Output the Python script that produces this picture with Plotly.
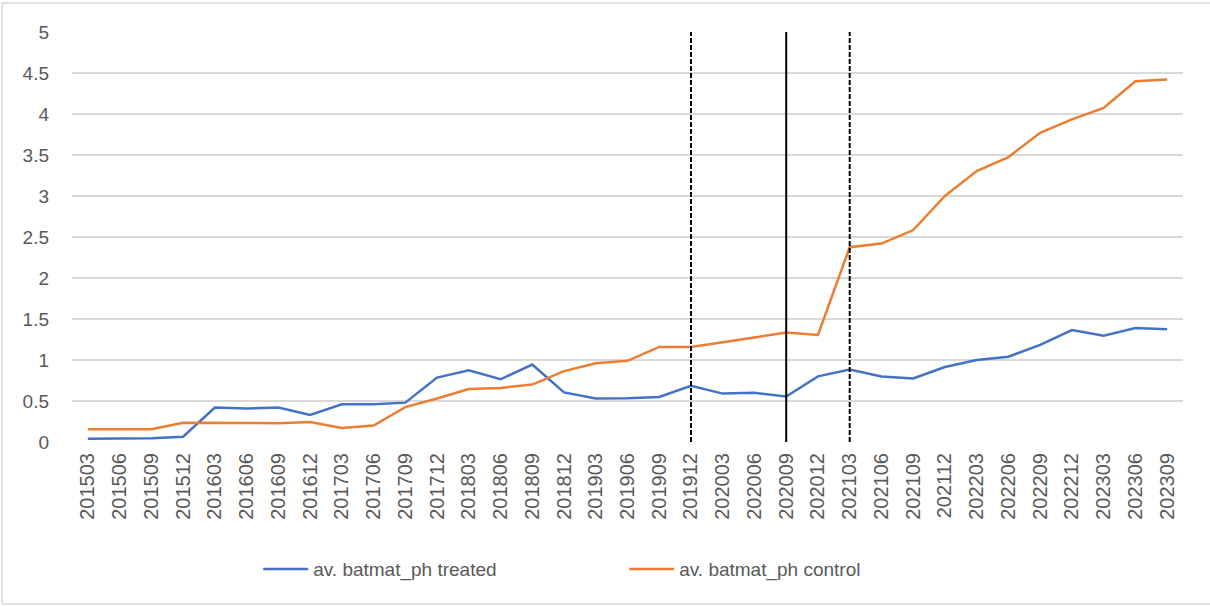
import plotly.graph_objects as go

periods = ["201503","201506","201509","201512","201603","201606","201609","201612",
           "201703","201706","201709","201712","201803","201806","201809","201812",
           "201903","201906","201909","201912","202003","202006","202009","202012",
           "202103","202106","202109","202112","202203","202206","202209","202212",
           "202303","202306","202309"]

treated = [0.04,0.04,0.045,0.065,0.42,0.41,0.42,0.33,0.46,0.46,0.48,0.785,0.875,0.765,0.945,0.605,
           0.53,0.535,0.55,0.685,0.59,0.60,0.555,0.80,0.885,0.80,0.775,0.915,1.00,1.04,1.185,1.365,
           1.295,1.39,1.375]

control = [0.155,0.155,0.155,0.235,0.235,0.23,0.23,0.245,0.17,0.20,0.425,0.53,0.645,0.66,0.70,0.865,
           0.96,0.99,1.16,1.16,1.215,1.275,1.335,1.305,2.375,2.42,2.585,3.0,3.305,3.475,3.77,3.935,
           4.075,4.40,4.42]

y_ticks = [0, 0.5, 1, 1.5, 2, 2.5, 3, 3.5, 4, 4.5, 5]
y_tick_labels = ["0", "0.5", "1", "1.5", "2", "2.5", "3", "3.5", "4", "4.5", "5"]

event_periods = ["201912", "202009", "202103"]
event_styles = ["5px,2px", "solid", "5px,2px"]

W, H = 1210, 606
ML, MR, MT, MB = 72, 27, 32, 164
font_family = "Liberation Sans"
tick_color = "#595959"

fig = go.Figure()
fig.add_trace(go.Scatter(x=periods, y=treated, mode="lines", name="av. batmat_ph treated",
                         line=dict(color="#4472C4", width=2.5)))
fig.add_trace(go.Scatter(x=periods, y=control, mode="lines", name="av. batmat_ph control",
                         line=dict(color="#ED7D31", width=2.5)))

for p, style in zip(event_periods, event_styles):
    idx = periods.index(p)
    fig.add_shape(type="line", xref="x", yref="y", x0=idx, x1=idx, y0=0, y1=5.03,
                  line=dict(color="black", width=2, dash=style))

# chart-area border
pw = W - ML - MR
ph = H - MT - MB
fig.add_shape(type="rect", xref="paper", yref="paper",
              x0=(2 - ML) / pw, x1=(W + 5 - ML) / pw,
              y0=(H - 604 - MB) / ph, y1=(H - 3 - MB) / ph,
              line=dict(color="#D9D9D9", width=1.5), fillcolor="rgba(0,0,0,0)", layer="below")

fig.update_layout(
    width=W, height=H,
    margin=dict(l=ML, r=MR, t=MT, b=MB),
    paper_bgcolor="white", plot_bgcolor="white",
    font=dict(family=font_family, color=tick_color, size=19),
    showlegend=True,
    legend=dict(orientation="h", x=0.497, xanchor="center", y=-0.31, yanchor="middle",
                font=dict(size=19, color=tick_color), itemwidth=45, traceorder="normal",
                entrywidth=306),
    xaxis=dict(type="category", range=[-0.5, len(periods) - 0.5], tickangle=-90,
               showgrid=False, zeroline=False, showline=False, ticks="",
               tickfont=dict(size=20, color=tick_color), ticklabelstandoff=6),
    yaxis=dict(range=[0, 5], tickvals=y_ticks, ticktext=y_tick_labels,
               showgrid=True, gridcolor="#D9D9D9", gridwidth=1.5, zeroline=False,
               showline=False, ticks="", tickfont=dict(size=19, color=tick_color),
               ticklabelstandoff=22),
)

fig.write_html("out.html", config={"displayModeBar": False},
               post_script="document.body.style.margin='0';document.body.style.overflow='hidden';")
